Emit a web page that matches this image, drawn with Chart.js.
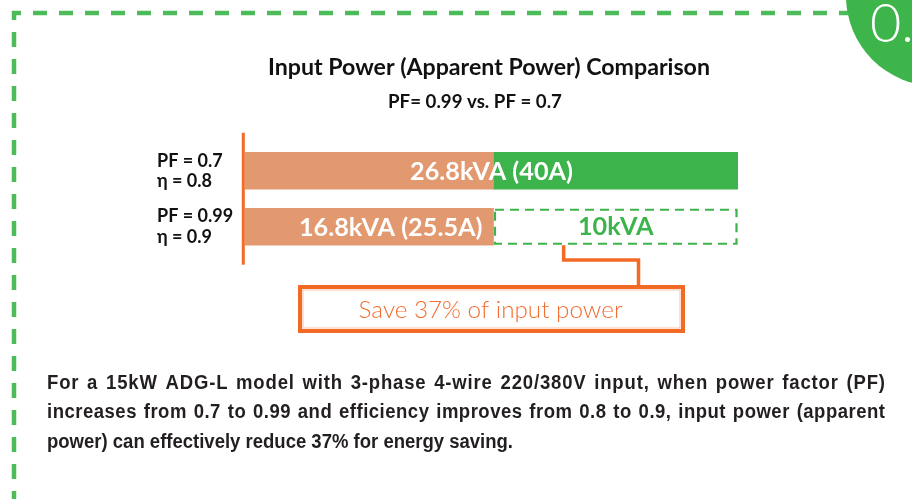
<!DOCTYPE html>
<html>
<head>
<meta charset="utf-8">
<title>Input Power Comparison</title>
<script src="https://cdn.jsdelivr.net/npm/chart.js@4.4.1/dist/chart.umd.min.js"></script>
<style>
  html, body { margin: 0; padding: 0; background: #fff; }
  #wrap { width: 912px; height: 499px; position: relative; }
</style>
</head>
<body>
<div id="wrap"><canvas id="powerChart"></canvas></div>
<script>
// values
const rowLabels = [['PF = 0.7', 'η = 0.8'], ['PF = 0.99', 'η = 0.9']];
const apparentKva = [26.8, 16.8];
const inputAmps = [40, 25.5];
const savedKva = 10;
const savedPercent = 37;
// bar segments as drawn (share of the full bar length, %)
const usedShare = [50.4, 50.4];
const savedShare = [49.6, 49.6];

const titleText = 'Input Power (Apparent Power) Comparison';
const subtitleText = 'PF= 0.99 vs. PF = 0.7';
const noteLines = [
    'For a 15kW ADG-L model with 3-phase 4-wire 220/380V input, when power factor (PF)',
    'increases from 0.7 to 0.99 and efficiency improves from 0.8 to 0.9, input power (apparent',
    'power) can effectively reduce ' + savedPercent + '% for energy saving.'
];

const GREEN = '#3cb44b';
const BORDER_GREEN = '#4dbb59';
const PEACH = '#e3996f';
const ORANGE = '#f26a23';

// pick a font size so the text fills a given width
function fitFont(ctx, text, width, weight, family) {
    ctx.font = weight + ' 20px ' + family;
    const w = ctx.measureText(text).width;
    return weight + ' ' + (20 * width / w).toFixed(2) + 'px ' + family;
}

const decorPlugin = {
    id: 'decor',
    beforeDraw(chart) {
        const ctx = chart.ctx;
        ctx.save();
        ctx.fillStyle = '#fff';
        ctx.fillRect(0, 0, chart.width, chart.height);

        // dashed frame
        ctx.strokeStyle = BORDER_GREEN;
        ctx.lineWidth = 4.5;
        ctx.setLineDash([14, 12]);
        ctx.lineDashOffset = 5;
        ctx.beginPath();
        ctx.moveTo(12, 13);
        ctx.lineTo(860, 13);
        ctx.stroke();
        ctx.setLineDash([15, 12]);
        ctx.lineDashOffset = 6;
        ctx.beginPath();
        ctx.moveTo(14, 11);
        ctx.lineTo(14, chart.height);
        ctx.stroke();
        ctx.setLineDash([]);

        // corner badge
        ctx.fillStyle = '#3db54a';
        ctx.beginPath();
        ctx.arc(936, -4, 90, 0, Math.PI * 2);
        ctx.fill();
        ctx.fillStyle = '#fff';
        ctx.font = '300 54px Lato';
        ctx.textAlign = 'left';
        ctx.textBaseline = 'alphabetic';
        ctx.fillText('0.', 870, 42);
        ctx.restore();
    },
    afterDraw(chart) {
        const ctx = chart.ctx;
        const area = chart.chartArea;
        const used = chart.getDatasetMeta(0).data;
        const saved = chart.getDatasetMeta(1).data;
        ctx.save();

        // titles
        ctx.fillStyle = '#111';
        ctx.textAlign = 'center';
        ctx.textBaseline = 'middle';
        ctx.font = fitFont(ctx, titleText, 442, 'bold', 'Lato');
        ctx.fillText(titleText, 489, 68);
        ctx.font = fitFont(ctx, subtitleText, 174, 'bold', 'Lato');
        ctx.fillText(subtitleText, 475, 102);

        // axis line
        ctx.strokeStyle = ORANGE;
        ctx.lineWidth = 3;
        ctx.beginPath();
        ctx.moveTo(area.left - 1.7, area.top - 10);
        ctx.lineTo(area.left - 1.7, area.bottom + 10);
        ctx.stroke();

        // dashed outline for the saved part of the second bar
        const box = saved[1];
        const half = box.height / 2;
        ctx.strokeStyle = GREEN;
        ctx.lineWidth = 2.2;
        ctx.setLineDash([9, 6]);
        ctx.strokeRect(box.base + 1.5, box.y - half + 1.5, box.x - box.base - 3, box.height - 3);
        ctx.setLineDash([]);

        // bar labels
        ctx.fillStyle = '#fff';
        ctx.font = fitFont(ctx, '26.8kVA (40A)', 163, 'bold', 'Lato');
        ctx.fillText(apparentKva[0] + 'kVA (' + inputAmps[0] + 'A)', (used[0].base + saved[0].x) / 2, used[0].y + 1);
        ctx.textAlign = 'right';
        ctx.fillText(apparentKva[1] + 'kVA (' + inputAmps[1] + 'A)', used[1].x - 11, used[1].y + 1);
        ctx.textAlign = 'center';
        ctx.fillStyle = GREEN;
        ctx.fillText(savedKva + 'kVA', (box.base + box.x) / 2, box.y);

        // callout
        const sx = box.base + (box.x - box.base) * 0.287;
        const boxTop = 285, boxBottom = 333;
        const midX = (area.left + area.right) / 2;
        ctx.strokeStyle = ORANGE;
        ctx.lineWidth = 3.5;
        ctx.beginPath();
        ctx.moveTo(sx, box.y + half);
        ctx.lineTo(sx, 260);
        ctx.lineTo(638.5, 260);
        ctx.lineTo(638.5, boxTop);
        ctx.stroke();
        ctx.lineWidth = 4;
        ctx.strokeRect(midX - 191.5, boxTop + 2, 383, boxBottom - boxTop - 4);
        ctx.strokeStyle = 'rgba(242,106,35,0.35)';
        ctx.lineWidth = 1.2;
        ctx.strokeRect(midX - 188.5, boxTop + 5, 377, boxBottom - boxTop - 10);
        ctx.fillStyle = '#f26d30';
        const callout = 'Save ' + savedPercent + '% of input power';
        ctx.font = fitFont(ctx, callout, 264, '300', 'Lato');
        ctx.fillText(callout, midX - 1, 310);

        // note paragraph, narrow bold face, justified (half the slack to letters, half to spaces)
        ctx.fillStyle = '#231f20';
        ctx.textAlign = 'left';
        ctx.font = 'bold 20px "Liberation Sans", Arial, sans-serif';
        const squeeze = 466 / ctx.measureText(noteLines[2]).width;
        const spaceW = ctx.measureText(' ').width * squeeze;
        const lineY = [383, 412, 442];
        noteLines.forEach((line, i) => {
            const words = line.split(' ');
            const natural = ctx.measureText(line).width * squeeze;
            const slack = i < 2 ? 838 - natural : 0;
            const letterGaps = words.reduce((n, w) => n + w.length - 1, 0);
            const ls = slack * 0.5 / letterGaps;
            const gap = spaceW + slack * 0.5 / (words.length - 1);
            let x = 47;
            words.forEach(w => {
                for (const ch of w) {
                    ctx.save();
                    ctx.translate(x, lineY[i]);
                    ctx.scale(squeeze, 1);
                    ctx.fillText(ch, 0, 0);
                    ctx.restore();
                    x += ctx.measureText(ch).width * squeeze + ls;
                }
                x += gap - ls;
            });
        });
        ctx.restore();
    }
};

new Chart(document.getElementById('powerChart'), {
    type: 'bar',
    data: {
        labels: rowLabels,
        datasets: [{
            label: 'Input power',
            data: usedShare,
            backgroundColor: PEACH,
            barThickness: 37
        }, {
            label: 'Saved',
            data: savedShare,
            backgroundColor: [GREEN, 'rgba(0,0,0,0)'],
            barThickness: 37
        }]
    },
    options: {
        indexAxis: 'y',
        responsive: true,
        maintainAspectRatio: false,
        animation: false,
        layout: { padding: { top: 142.8, bottom: 244.3, left: 157, right: 174 } },
        scales: {
            x: { stacked: true, display: false, min: 0, max: 100 },
            y: {
                stacked: true,
                grid: { display: false, drawTicks: false },
                border: { display: false },
                ticks: {
                    crossAlign: 'far',
                    color: '#111',
                    padding: 0,
                    font: { family: 'Lato, "DejaVu Sans"', size: 18, weight: 'bold', lineHeight: 1.12 }
                },
                afterFit: scale => { scale.width = 88; }
            }
        },
        plugins: {
            legend: { display: false },
            title: { display: false },
            tooltip: { enabled: false }
        }
    },
    plugins: [decorPlugin]
});
</script>
</body>
</html>
